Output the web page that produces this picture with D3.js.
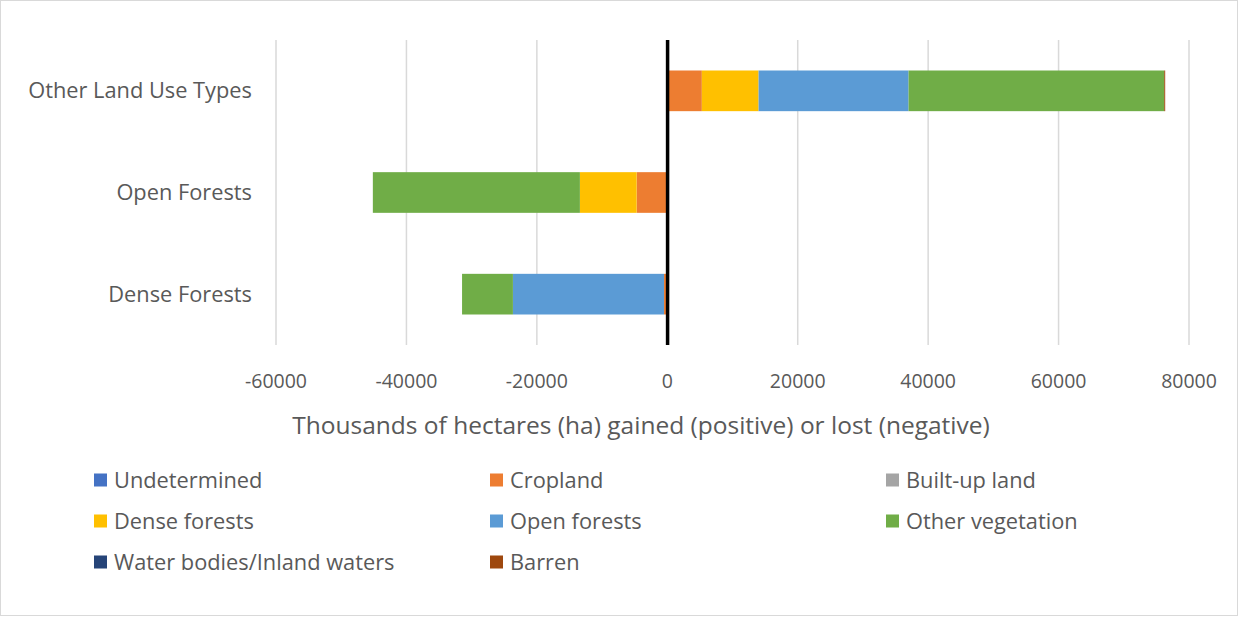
<!DOCTYPE html>
<html>
<head>
<meta charset="utf-8">
<script src="https://cdn.jsdelivr.net/npm/d3@7"></script>
<style>
  body { margin: 0; background: #fff; }
  text { font-family: "Open Sans", sans-serif; fill: #595959; }
</style>
</head>
<body>
<div id="chart"></div>
<script>
// rows, top to bottom as in the picture
const categories = ["Other Land Use Types", "Open Forests", "Dense Forests"];
const seriesNames = ["Undetermined", "Cropland", "Built-up land", "Dense forests",
  "Open forests", "Other vegetation", "Water bodies/Inland waters", "Barren"];
const seriesColors = ["#4472C4", "#ED7D31", "#A5A5A5", "#FFC000",
  "#5B9BD5", "#70AD47", "#264478", "#9E480E"];

// values per series, one per category (thousands of ha)
const undetermined = [0, 0, 0];
const cropland = [5300, -4700, -500];
const builtUp = [0, 0, 0];
const denseForests = [8700, -8700, 0];
const openForests = [23000, 0, -23170];
const otherVegetation = [39200, -31750, -7800];
const waterBodies = [0, 0, 0];
const barren = [150, 0, 0];

const xTicks = [-60000, -40000, -20000, 0, 20000, 40000, 60000, 80000];

const width = 1239, height = 617;
const margins = { top: 40, bottom: 272, left: 276, right: 50 };

const svg = d3.select("#chart").append("svg")
  .attr("width", width).attr("height", height);

// chart border
svg.append("rect")
  .attr("x", 0.5).attr("y", 0.5)
  .attr("width", width - 2).attr("height", height - 2)
  .attr("fill", "#fff").attr("stroke", "#D9D9D9");

const allSeries = [undetermined, cropland, builtUp, denseForests,
  openForests, otherVegetation, waterBodies, barren];

const table = categories.map((c, i) => {
  const row = { category: c };
  seriesNames.forEach((s, j) => row[s] = allSeries[j][i]);
  return row;
});

const stacked = d3.stack()
  .keys(seriesNames)
  .offset(d3.stackOffsetDiverging)(table);

const xScale = d3.scaleLinear()
  .domain([-60000, 80000])
  .range([276, 1189]);

const yScale = d3.scaleBand()
  .domain(categories)
  .range([margins.top, 345])
  .paddingInner(0.6)
  .paddingOuter(0.3);

// gridlines
svg.append("g")
  .selectAll("line")
  .data(xTicks)
  .join("line")
  .attr("x1", d => xScale(d)).attr("x2", d => xScale(d))
  .attr("y1", margins.top).attr("y2", 345)
  .attr("stroke", "#D9D9D9")
  .attr("stroke-width", 1.5);

// bars
svg.append("g")
  .selectAll("g")
  .data(stacked)
  .join("g")
  .attr("fill", (d, i) => seriesColors[i])
  .selectAll("rect")
  .data(d => d)
  .join("rect")
  .attr("x", d => xScale(Math.min(d[0], d[1])))
  .attr("width", d => Math.abs(xScale(d[1]) - xScale(d[0])))
  .attr("y", d => yScale(d.data.category))
  .attr("height", yScale.bandwidth());

// zero axis line
svg.append("line")
  .attr("x1", xScale(0) + 0.3).attr("x2", xScale(0) + 0.3)
  .attr("y1", margins.top).attr("y2", 345)
  .attr("stroke", "#000")
  .attr("stroke-width", 3.5);

// x tick labels
svg.append("g")
  .selectAll("text")
  .data(xTicks)
  .join("text")
  .attr("x", d => xScale(d))
  .attr("y", 388)
  .attr("text-anchor", "middle")
  .style("font-size", "19.5px")
  .text(d => d);

// category labels
svg.append("g")
  .selectAll("text")
  .data(categories)
  .join("text")
  .attr("x", 252)
  .attr("y", d => yScale(d) + yScale.bandwidth() / 2)
  .attr("dy", "0.35em")
  .attr("text-anchor", "end")
  .style("font-size", "21.8px")
  .text(d => d);

// axis title
svg.append("text")
  .attr("x", 641)
  .attr("y", 434)
  .attr("text-anchor", "middle")
  .style("font-size", "24.5px")
  .text("Thousands of hectares (ha) gained (positive) or lost (negative)");

// legend
const legend = svg.append("g")
  .selectAll("g")
  .data(seriesNames)
  .join("g")
  .attr("transform", (d, i) => `translate(${94 + (i % 3) * 396},${480 + Math.floor(i / 3) * 41})`);

legend.append("rect")
  .attr("x", 0).attr("y", -6.5)
  .attr("width", 13).attr("height", 13)
  .attr("fill", (d, i) => seriesColors[i]);

legend.append("text")
  .attr("x", 20)
  .attr("dy", "0.35em")
  .style("font-size", "21.8px")
  .text(d => d);
</script>
</body>
</html>
